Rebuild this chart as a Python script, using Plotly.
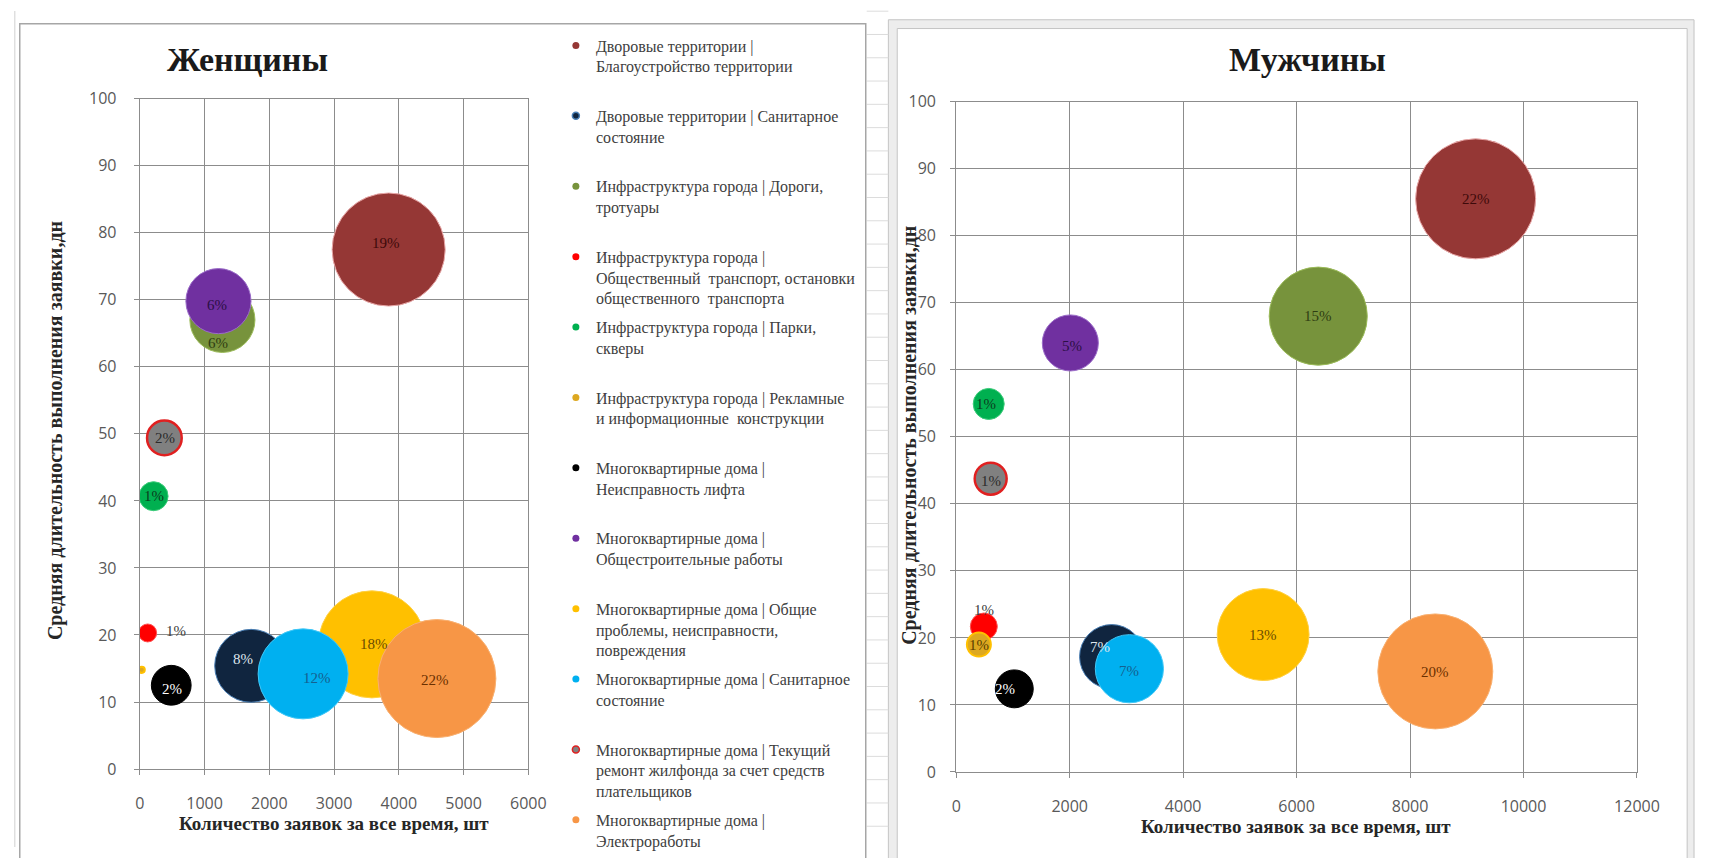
import plotly.graph_objects as go

W, H = 1719, 858

# ---------------- data ----------------
categories = [
    "Дворовые территории |<br>Благоустройство территории<br>&nbsp;",
    "Дворовые территории | Санитарное<br>состояние<br>&nbsp;",
    "Инфраструктура города | Дороги,<br>тротуары<br>&nbsp;",
    "Инфраструктура города |<br>Общественный  транспорт, остановки<br>общественного  транспорта",
    "Инфраструктура города | Парки,<br>скверы<br>&nbsp;",
    "Инфраструктура города | Рекламные<br>и информационные  конструкции<br>&nbsp;",
    "Многоквартирные дома |<br>Неисправность лифта<br>&nbsp;",
    "Многоквартирные дома |<br>Общестроительные работы<br>&nbsp;",
    "Многоквартирные дома | Общие<br>проблемы, неисправности,<br>повреждения",
    "Многоквартирные дома | Санитарное<br>состояние<br>&nbsp;",
    "Многоквартирные дома | Текущий<br>ремонт жилфонда за счет средств<br>плательщиков",
    "Многоквартирные дома |<br>Электроработы",
]

# Women: count of requests, avg duration (days), bubble size (share), label
x_women = [3843, 1720, 1276, 122, 213, 30, 486, 1215, 3585, 2522, 380, 4588]
y_women = [77.5, 15.4, 67.0, 20.3, 40.7, 14.8, 12.5, 69.8, 18.6, 14.2, 49.4, 13.5]
size_women = [20.2, 8.4, 6.7, 0.51, 1.33, 0.06, 2.5, 6.7, 18.1, 12.8, 1.9, 22.0]
label_women = ["19%", "8%", "6%", "1%", "1%", "", "2%", "6%", "18%", "12%", "2%", "22%"]

# Men
x_men = [9156, 2740, 6381, 486, 572, 399, 1023, 2011, 5410, 3052, 607, 8445]
y_men = [85.5, 17.2, 68.0, 21.7, 54.9, 19.0, 12.4, 64.0, 20.5, 15.4, 43.75, 15.0]
size_men = [22.0, 6.3, 14.7, 1.11, 1.47, 0.88, 2.2, 4.8, 12.9, 7.1, 1.56, 20.2]
label_men = ["22%", "7%", "15%", "1%", "1%", "1%", "2%", "5%", "13%", "7%", "1%", "20%"]

x_ticks_women = [0, 1000, 2000, 3000, 4000, 5000, 6000]
x_ticks_men = [0, 2000, 4000, 6000, 8000, 10000, 12000]
y_ticks = [0, 10, 20, 30, 40, 50, 60, 70, 80, 90, 100]

title_women = "Женщины"
title_men = "Мужчины"
x_title = "Количество заявок за все время, шт"
y_title = "Средняя длительность выполнения заявки,дн"

# ---------------- styles ----------------
colors = ["#953735", "#10253F", "#77933C", "#FF0000", "#00B050", "#DDA820",
          "#000000", "#7030A0", "#FFC000", "#00B0F0", "#808080", "#F79646"]
edge_colors = ["#E8A8A8", "#4A7FB5", "#9BBB59", "#FF5050", "#3CCB7A", "#FFC000",
               "#000000", "#9A6BC8", "#FFD040", "#40C8F8", "#E02020", "#F9B070"]
edge_widths = [1, 1, 1, 1, 1, 2, 1, 1, 1, 1, 2.5, 1]
label_colors = ["#3d0a0a", "#dfe6ee", "#2f3d12", "#404040", "#0b3d1e", "#5a4000",
                "#ffffff", "#2b0f45", "#6b4c00", "#15608f", "#2b2b2b", "#6b3000"]
shift_women = [(-3, 7), (-8, 7), (-4, -23), (28, 2), (0, 0), (0, 0),
               (1, -4), (-1, -4), (2, 0), (14, -4), (1, 0), (-2, -1)]
shift_men = [(0, 0), (-12, 10), (0, 0), (0, 17), (-3, 0), (0, 0),
             (-9, 0), (2, -3), (0, 0), (0, -2), (0, -2), (0, -1)]

GRID = "#8C8C8C"
SERIF = "Liberation Serif"


def px(p):
    return p / W


def py(p):
    return 1 - p / H


fig = go.Figure()

sizeref_w = 2 * max(size_women) / 118 ** 2
sizeref_m = 2 * max(size_men) / 120 ** 2

for i in range(len(categories)):
    fig.add_trace(go.Scatter(
        x=[x_women[i]], y=[y_women[i]], mode="markers", xaxis="x", yaxis="y",
        marker=dict(size=[size_women[i]], sizemode="area", sizeref=sizeref_w,
                    color=colors[i], opacity=1,
                    line=dict(color=edge_colors[i], width=edge_widths[i])),
        showlegend=False, hoverinfo="skip"))
    fig.add_trace(go.Scatter(
        x=[x_men[i]], y=[y_men[i]], mode="markers", xaxis="x2", yaxis="y2",
        marker=dict(size=[size_men[i]], sizemode="area", sizeref=sizeref_m,
                    color=colors[i], opacity=1,
                    line=dict(color=edge_colors[i], width=edge_widths[i])),
        showlegend=False, hoverinfo="skip"))

# legend entries
for i, name in enumerate(categories):
    fig.add_trace(go.Scatter(
        x=[None], y=[None], mode="markers", xaxis="x", yaxis="y", name=name,
        legendgroup="g%d" % i,
        marker=dict(size=7, color=colors[i],
                    line=dict(color=edge_colors[i], width=1.5 if i in (1, 10) else 0))))

annotations = []
for i in range(len(categories)):
    if label_women[i]:
        annotations.append(dict(
            x=x_women[i], y=y_women[i], xref="x", yref="y", text=label_women[i],
            showarrow=False, xshift=shift_women[i][0], yshift=shift_women[i][1],
            xanchor="center", yanchor="middle",
            font=dict(family=SERIF, size=15, color=label_colors[i])))
    if label_men[i]:
        annotations.append(dict(
            x=x_men[i], y=y_men[i], xref="x2", yref="y2", text=label_men[i],
            showarrow=False, xshift=shift_men[i][0], yshift=shift_men[i][1],
            xanchor="center", yanchor="middle",
            font=dict(family=SERIF, size=15, color=label_colors[i])))

# titles
title_font = dict(family=SERIF, size=34, color="#1a1a1a")
x_title_font = dict(family=SERIF, size=19, color="#262626")
y_title_font = dict(family=SERIF, size=20, color="#262626")
common_ann = dict(xref="paper", yref="paper", showarrow=False, xanchor="center", yanchor="middle")
annotations += [
    dict(x=px(247), y=py(50), text="<b>%s</b>" % title_women, font=title_font, **common_ann),
    dict(x=px(1324), y=py(50), text="<b>%s</b>" % title_men, font=title_font, **common_ann),
    dict(x=px(334), y=py(834), text="<b>%s</b>" % x_title, font=x_title_font, **common_ann),
    dict(x=px(1312), y=py(837), text="<b>%s</b>" % x_title, font=x_title_font, **common_ann),
    dict(x=px(52), y=py(431), text="<b>%s</b>" % y_title, textangle=-90,
         font=y_title_font, **common_ann),
    dict(x=px(920), y=py(436), text="<b>%s</b>" % y_title, textangle=-90,
         font=y_title_font, **common_ann),
]

# frames (spreadsheet chart objects)
shapes = []
# spreadsheet cell lines in the gap between charts
k = 0
while 0.2 + 23.9 * k < H:
    yy = 0.2 + 23.9 * k
    shapes.append(dict(type="line", xref="paper", yref="paper", x0=px(876), x1=px(898),
                       y0=py(yy), y1=py(yy), line=dict(color="#DCDCDC", width=1)))
    k += 1
shapes.append(dict(type="line", xref="paper", yref="paper", x0=px(10), x1=px(10),
                   y0=py(0), y1=py(H), line=dict(color="#D0D0D0", width=1)))
shapes.append(dict(type="rect", xref="paper", yref="paper", x0=px(15), x1=px(875),
                   y0=py(H + 20), y1=py(13), line=dict(color="#A6A6A6", width=1.5)))
shapes.append(dict(type="rect", xref="paper", yref="paper", x0=px(898), x1=px(1717),
                   y0=py(H + 20), y1=py(9), fillcolor="#EDEDED",
                   line=dict(color="#C4C4C4", width=1), layer="below"))
shapes.append(dict(type="rect", xref="paper", yref="paper", x0=px(907), x1=px(1710),
                   y0=py(H + 20), y1=py(18), fillcolor="#FFFFFF",
                   line=dict(color="#C4C4C4", width=1), layer="below"))

axis_common = dict(
    showgrid=True, gridcolor=GRID, gridwidth=1.2, zeroline=False,
    showline=True, linecolor=GRID, linewidth=1.2, mirror=True,
    ticks="outside", ticklen=5, tickcolor=GRID, tickwidth=1.2,
    tickfont=dict(family="Open Sans", size=16, color="#595959"),
    tickformat="d", fixedrange=True,
)

fig.update_layout(
    width=W, height=H, autosize=False,
    margin=dict(l=0, r=0, t=0, b=0),
    paper_bgcolor="white", plot_bgcolor="white",
    showlegend=True,
    legend=dict(x=px(560), y=py(18), xanchor="left", yanchor="top",
                font=dict(family=SERIF, size=16, color="#404040"),
                bgcolor="rgba(0,0,0,0)", valign="top", tracegroupgap=5,
                maxheight=1000,
                itemsizing="trace", itemclick=False, itemdoubleclick=False),
    xaxis=dict(domain=[px(137), px(532)], range=[0, 6000], tickvals=x_ticks_women,
               anchor="y", ticklabelstandoff=15, **axis_common),
    yaxis=dict(domain=[py(778), py(90)], range=[0, 100], tickvals=y_ticks,
               anchor="x", ticklabelstandoff=14, **axis_common),
    xaxis2=dict(domain=[px(967), px(1659)], range=[0, 12000], tickvals=x_ticks_men,
                anchor="y2", ticklabelstandoff=15, **axis_common),
    yaxis2=dict(domain=[py(781), py(93)], range=[0, 100], tickvals=y_ticks,
                anchor="x2", ticklabelstandoff=11, **axis_common),
    annotations=annotations,
    shapes=shapes,
)

fig.write_html("out.html", config={"displayModeBar": False},
               post_script="document.body.style.margin='0';document.body.style.overflow='hidden';")
